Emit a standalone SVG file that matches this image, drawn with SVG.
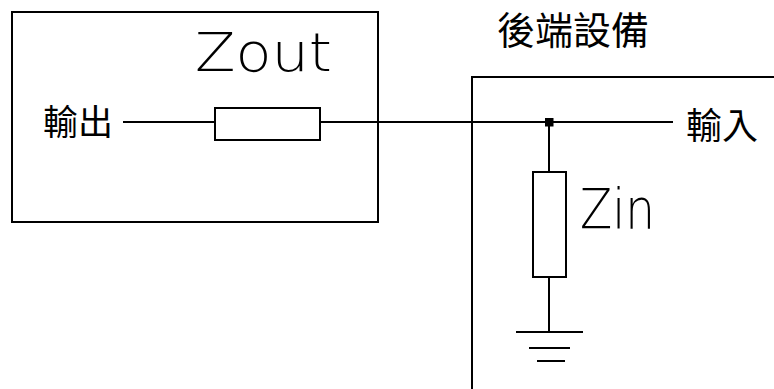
<svg xmlns="http://www.w3.org/2000/svg" width="774" height="389" viewBox="0 0 774 389">
<style>
.ln{stroke:#000;stroke-width:2;fill:none}
.box{stroke:#000;stroke-width:2;fill:none}
.res{stroke:#000;stroke-width:2;fill:#fff}
.cjk{font-family:"Noto Sans CJK TC","Noto Sans CJK JP",sans-serif;fill:#000}
.lat{font-family:"DejaVu Sans","Liberation Sans",sans-serif;font-weight:200;fill:#000}
</style>
<rect width="774" height="389" fill="#fff"/>
<g id="source">
<rect class="box" x="12" y="12" width="366" height="210"/>
<text class="lat" x="195" y="71" font-size="54" textLength="137" lengthAdjust="spacingAndGlyphs">Zout</text>
<text class="cjk" x="43" y="135" font-size="35">輸出</text>
</g>
<g id="zout">
<rect class="res" x="215" y="108" width="105" height="32"/>
</g>
<g id="load">
<polyline class="box" points="472,389 472,77 776,77"/>
<text class="cjk" x="497" y="44" font-size="38">後端設備</text>
<text class="cjk" x="686" y="139" font-size="36">輸入</text>
</g>
<g id="zin">
<rect class="res" x="533" y="172" width="33" height="105"/>
<text class="lat" x="580" y="228" font-size="55" textLength="75" lengthAdjust="spacingAndGlyphs">Zin</text>
</g>
<g id="ground">
<line class="ln" x1="516" y1="332" x2="583" y2="332"/>
<line class="ln" x1="529" y1="348" x2="570" y2="348"/>
<line class="ln" x1="537" y1="361" x2="565" y2="361"/>
</g>
<g id="connectors">
<line class="ln" x1="123" y1="122" x2="215" y2="122"/>
<line class="ln" x1="320" y1="122" x2="673" y2="122"/>
<line class="ln" x1="549" y1="122" x2="549" y2="172"/>
<line class="ln" x1="549" y1="277" x2="549" y2="332"/>
<rect x="545" y="118" width="8.5" height="8.5" fill="#000"/>
</g>
</svg>
